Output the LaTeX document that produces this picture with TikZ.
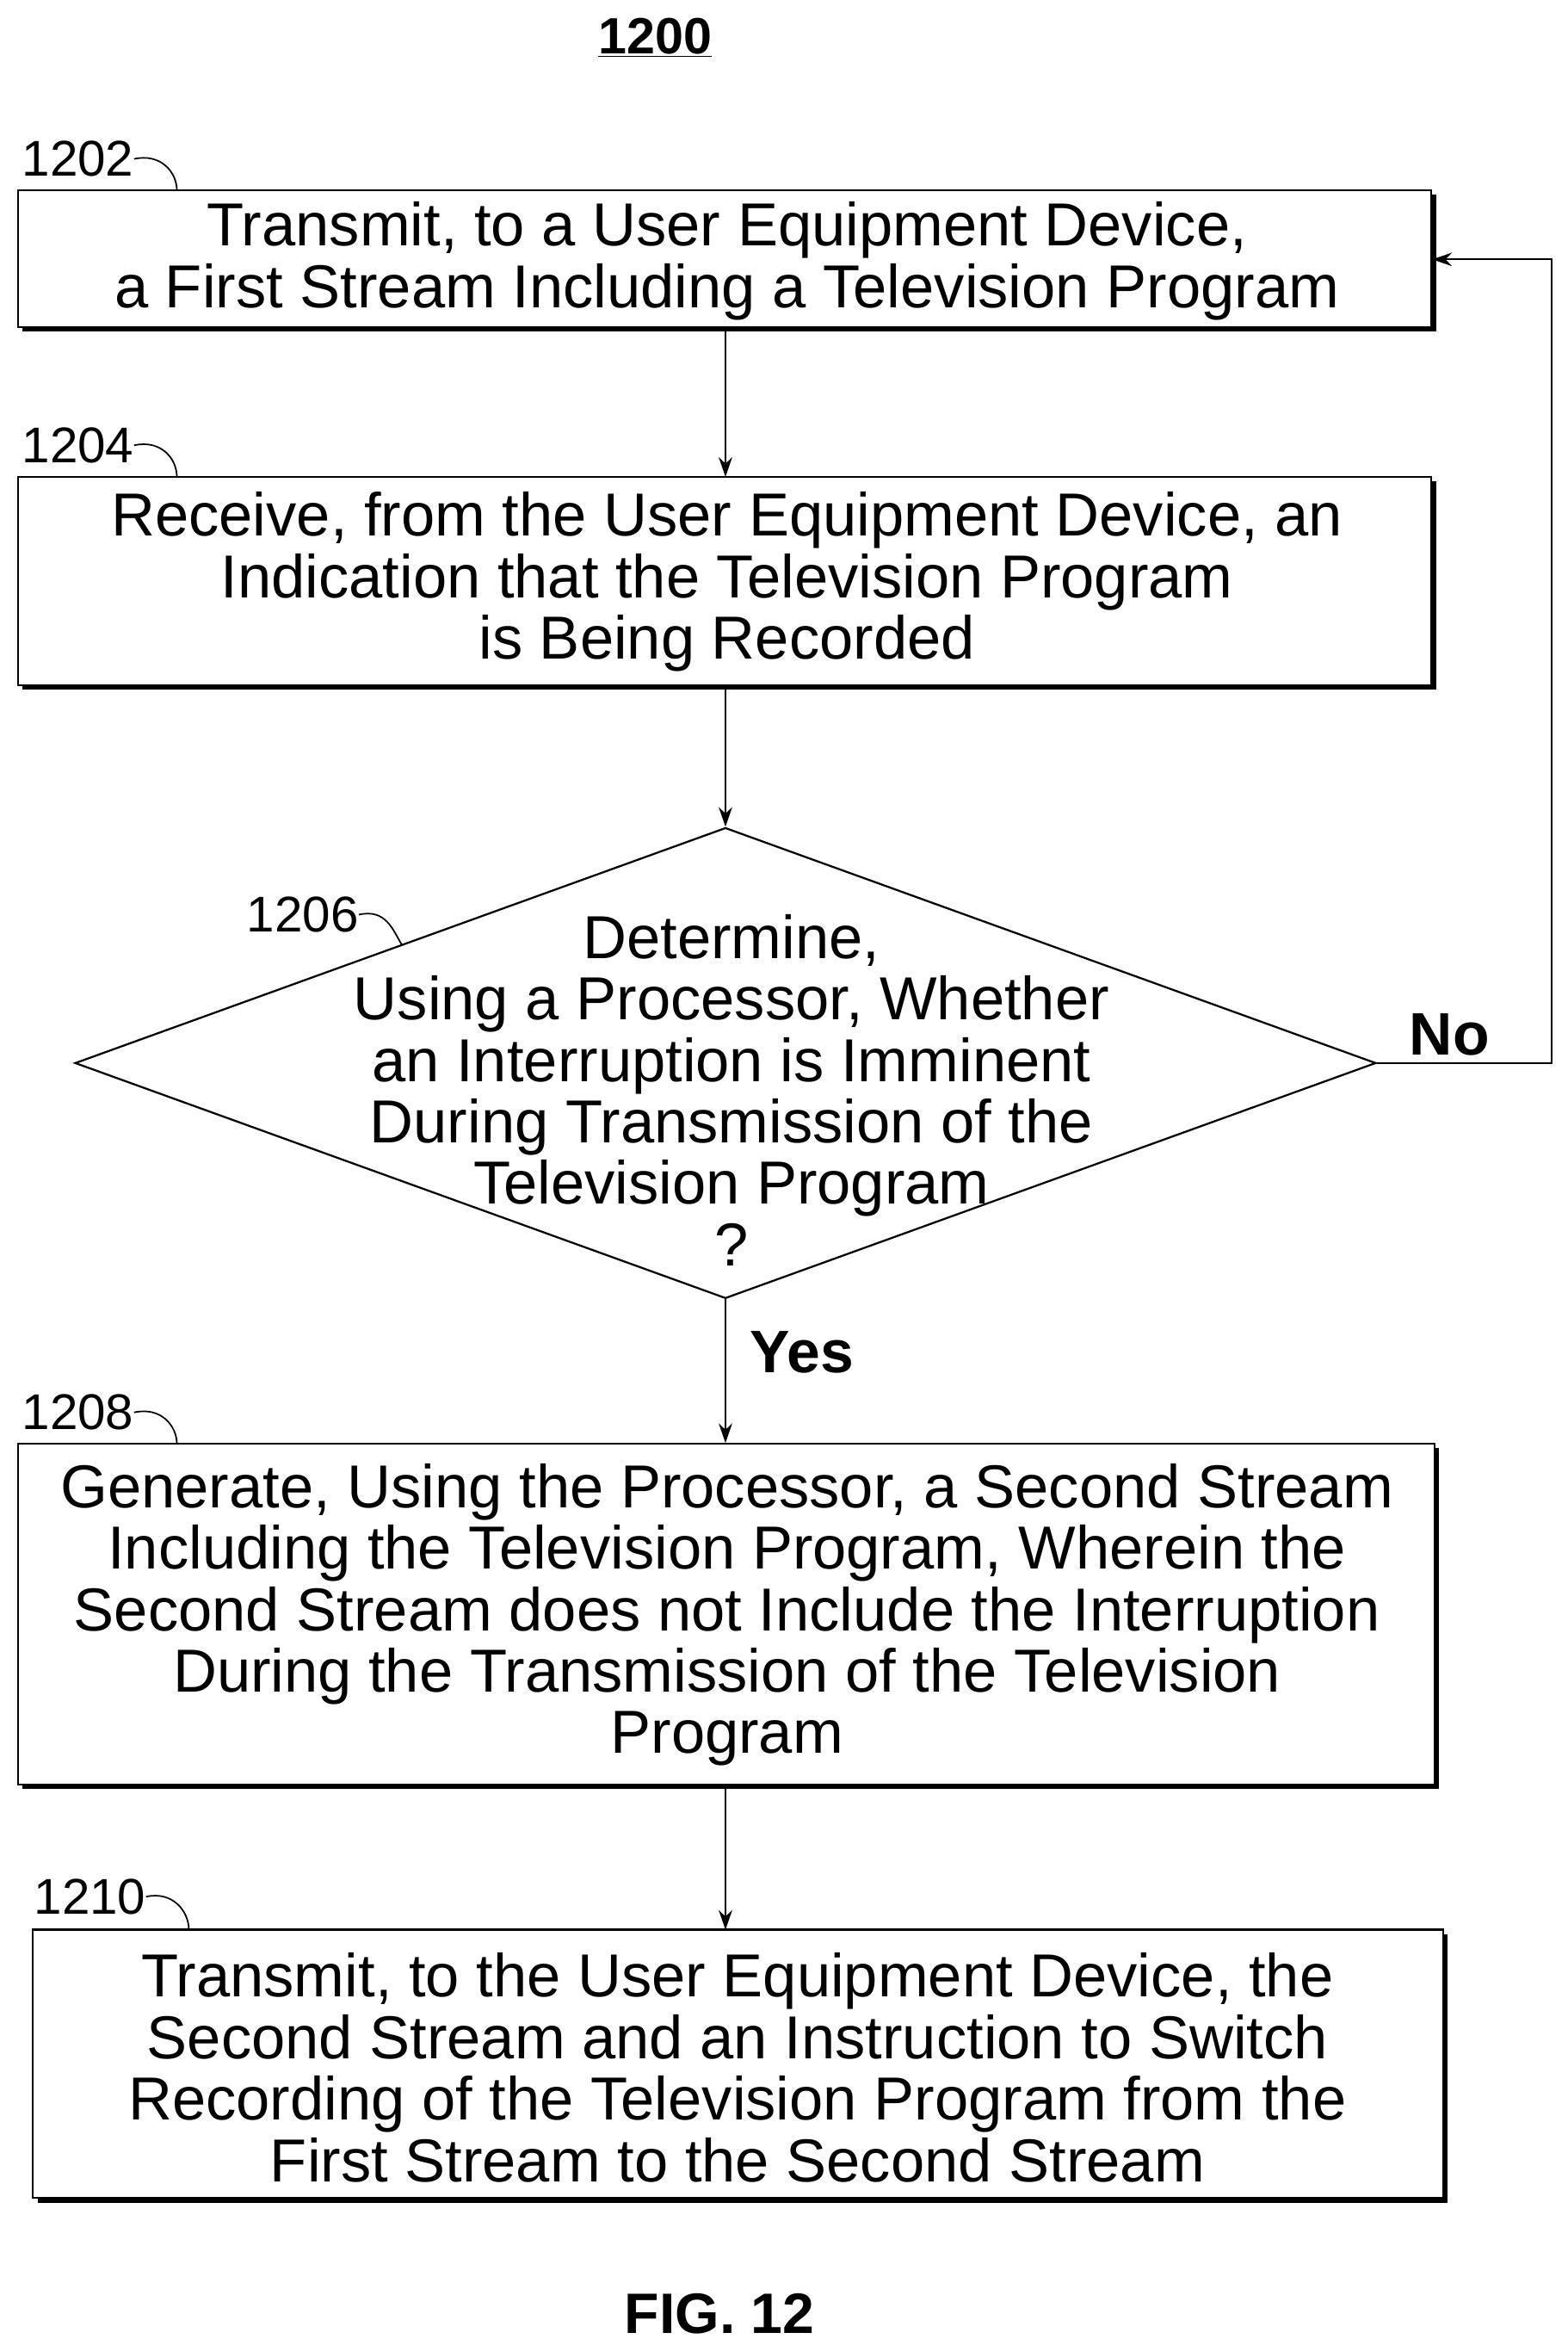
\documentclass[tikz,border=0pt]{standalone}
\usepackage{fontspec}
\setmainfont{Liberation Sans}
\usetikzlibrary{shapes.geometric,arrows.meta}
\begin{document}
\begin{tikzpicture}[x=1pt,y=-1pt,
  txt/.style={font=\fontsize{40.5}{41}\selectfont,align=center,inner sep=0},
  lbl/.style={font=\fontsize{33.5}{36}\selectfont,inner sep=0},
  box/.style={draw,line width=1.3pt,rectangle,inner sep=0},
  arr/.style={line width=1.1pt,-{Stealth[length=13pt,width=9pt]}}]
\useasboundingbox (0,0) rectangle (1046,1564);
\newcommand\shbox[5]{% name, x1,y1,x2,y2
  \node[box,minimum width={#4-#2},minimum height={#5-#3}] (#1) at ({(#2+#4)/2},{(#3+#5)/2}) {};
  \draw[line width=3pt] (#2+3,#5+1.5) -- (#4+1.5,#5+1.5) -- (#4+1.5,#3+3);}
\node[font=\bfseries\fontsize{34}{38}\selectfont] (title) at (437,25) {\underline{1200}};
\shbox{b1}{12}{127}{955}{218}
\node[txt] (t1) at (485,174) {Transmit, to a User Equipment Device,\\a First Stream Including a Television Program};
\shbox{b2}{12}{318}{955}{457}
\node[txt] (t2) at (485,388) {Receive, from the User Equipment Device, an\\Indication that the Television Program\\is Being Recorded};
\node[draw,line width=1.3pt,diamond,minimum width=868,minimum height=314,inner sep=0] (d) at (484,709) {};
\node[txt] (t3) at (488,727) {Determine,\\Using a Processor, Whether\\an Interruption is Imminent\\During Transmission of the\\Television Program\\?};
\shbox{b4}{12}{963}{957}{1190}
\node[txt] (t4) at (485,1077) {Generate, Using the Processor, a Second Stream\\Including the Television Program, Wherein the\\Second Stream does not Include the Interruption\\During the Transmission of the Television\\Program};
\shbox{b5}{22}{1287}{963}{1466}
\node[txt] (t5) at (492,1379) {Transmit, to the User Equipment Device, the\\Second Stream and an Instruction to Switch\\Recording of the Television Program from the\\First Stream to the Second Stream};
\node[font=\bfseries\fontsize{38}{42}\selectfont] (fig) at (480,1543) {FIG. 12};
% labels
\node[lbl] (l1) at (52,106) {1202};
\node[lbl] (l2) at (52,297) {1204};
\node[lbl] (l3) at (202,610) {1206};
\node[lbl] (l4) at (52,942) {1208};
\node[lbl] (l5) at (60,1265) {1210};
\draw[line width=1pt] (l1.east) .. controls +(18,-4) and +(0,-12) .. (118,127);
\draw[line width=1pt] (l2.east) .. controls +(18,-4) and +(0,-12) .. (118,318);
\draw[line width=1pt] (l3.east) .. controls +(18,-4) and +(-6,-10) .. (268,630);
\draw[line width=1pt] (l4.east) .. controls +(18,-4) and +(0,-12) .. (118,963);
\draw[line width=1pt] (l5.east) .. controls +(18,-4) and +(0,-12) .. (126,1287);
% connectors
\draw[arr] (484,218) -- (484,318);
\draw[arr] (d.north |- b2.south) -- (d.north);
\draw[arr] (d.south) -- (d.south |- b4.north);
\draw[arr] (484,1190) -- (484,1287);
\draw[arr] (d.east) -- (1035,709) -- (1035,173) -- (b1.east |- 0,173);
\node[font=\bfseries\fontsize{40}{44}\selectfont] (no) at (967,690) {No};
\node[font=\bfseries\fontsize{40}{44}\selectfont] (yes) at (535,902) {Yes};
\end{tikzpicture}
\end{document}
